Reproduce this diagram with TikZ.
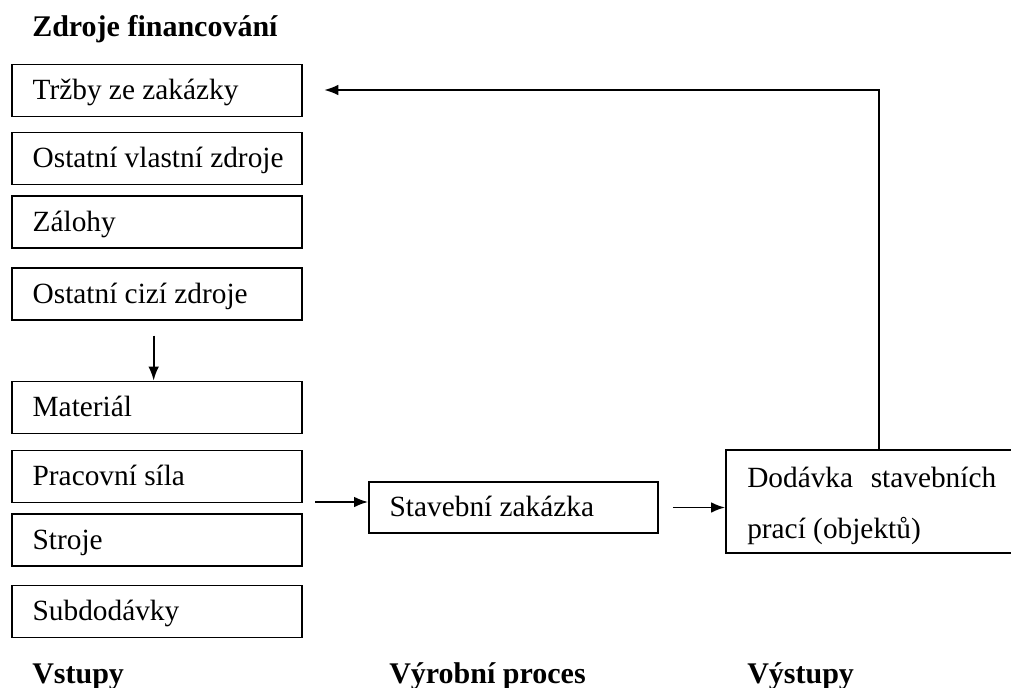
\documentclass[tikz,border=0pt]{standalone}
\usepackage{fontspec}
\setmainfont{Liberation Serif}
\usetikzlibrary{arrows.meta}
\newcommand{\lbtext}[2]{\makebox[#1][l]{\hspace*{15.5pt}#2}}
\begin{document}
\begin{tikzpicture}[x=0.75pt,y=-0.75pt,
  lbl/.style={font=\fontsize{22}{26}\selectfont, text height=15pt, text depth=1pt},
  box/.style={lbl, draw, line width=1.4pt, inner xsep=0pt, inner ysep=0pt},
  leftbox/.style={box, minimum height=39pt},
  title/.style={font=\fontsize{22.5}{26}\selectfont\bfseries, anchor=base west, inner sep=0pt},
  dtext/.style={font=\fontsize{22}{26}\selectfont, anchor=base west, inner sep=0pt},
  arr/.style={line width=1.3pt, -{Latex[length=10.5pt,width=8pt]}}]
\useasboundingbox (0,0) rectangle (1011,688);
\clip (0,0) rectangle (1011,688);

\node[title] (t1) at (32,37) {Zdroje financování};
\node[title] (t2) at (32,683) {Vstupy};
\node[title] (t3) at (389,683) {Výrobní proces};
\node[title] (t4) at (747,683) {Výstupy};

\node[leftbox] (trzby) at (157,90.5) {\lbtext{217.5pt}{Tržby ze zakázky}};
\node[leftbox] (vlastni) at (157,158.5) {\lbtext{217.5pt}{Ostatní vlastní zdroje}};
\node[leftbox] (zalohy) at (157,222) {\lbtext{217.5pt}{Zálohy}};
\node[leftbox] (cizi) at (157,294) {\lbtext{217.5pt}{Ostatní cizí zdroje}};
\node[leftbox] (material) at (157,407.5) {\lbtext{217.5pt}{Materiál}};
\node[leftbox] (prace) at (157,476.5) {\lbtext{217.5pt}{Pracovní síla}};
\node[leftbox] (stroje) at (157,540) {\lbtext{217.5pt}{Stroje}};
\node[leftbox] (subdod) at (157,611.5) {\lbtext{217.5pt}{Subdodávky}};

\node[box, minimum height=38pt] (stav) at (513.5,507.5) {\lbtext{216.75pt}{Stavební zakázka}};
\node[draw, line width=1.4pt, minimum width=247.5pt, minimum height=77pt] (dod) at (891,501.5) {};
\node[dtext] (d1) at (747,487) {Dodávka\hspace{0.6em}stavebních};
\node[dtext] (d2) at (747,538) {prací (objektů)};

\coordinate (in) at (315,502);
\coordinate (fb) at (879,90);

\draw[arr, shorten <=11pt] ([xshift=-2.5pt]cizi.south) -- ([xshift=-2.5pt]material.north);
\draw[arr] (in) -- (in -| stav.west);
\draw[arr, shorten <=10.5pt] (stav.east) -- (stav.east -| dod.west);
\draw[arr] (dod.north -| fb) -- (fb) -- ([xshift=16pt]trzby.east |- fb);
\end{tikzpicture}
\end{document}
